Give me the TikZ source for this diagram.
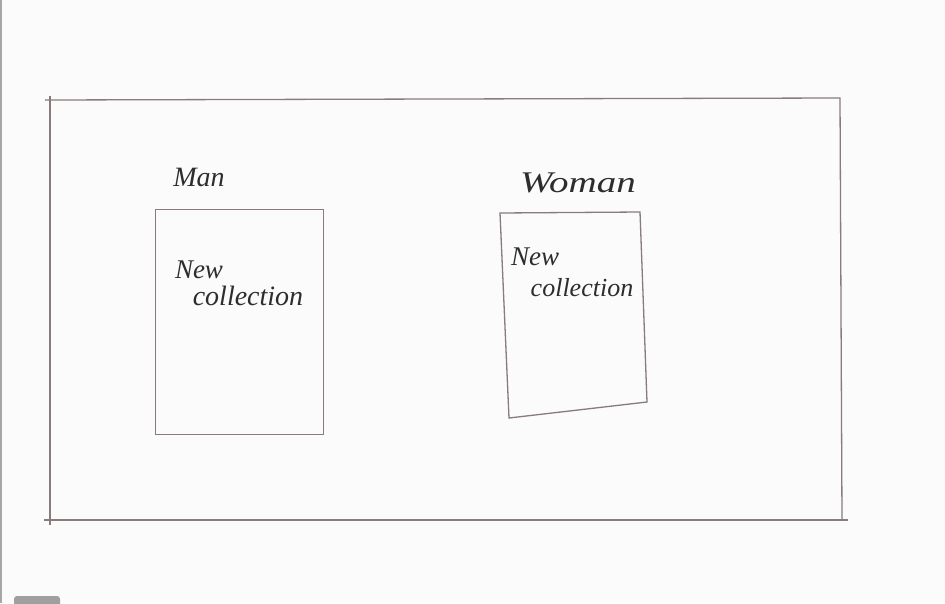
\documentclass[tikz,border=0pt]{standalone}
\usepackage{fontspec}
\setmainfont{Liberation Serif}
\begin{document}
\begin{tikzpicture}[x=1pt,y=-1pt,
  pencil/.style={draw=black!60!red!15!gray!90, line width=1.3pt},
  hand/.style={text=black!65!gray, inner sep=0pt, anchor=center},
  ]
\useasboundingbox[fill=white!97!gray] (0,0) rectangle (945,603);
% left edge gray line
\draw[gray!70, line width=1.5pt] (0.75,0) -- (0.75,603);
% gray tab
\fill[gray!75, rounded corners=3pt] (14,596) rectangle (60,610);
% outer frame
\coordinate (ftr) at (840,98);
\coordinate (fbr) at (842,520);
\draw[pencil] (45,100) -- (ftr) -- (fbr);
\draw[pencil] (50,96) -- (50,525);
\draw[pencil] (44,520) -- (848,520);
% man box
\node[pencil, minimum width=168pt, minimum height=225pt, inner sep=0pt] (man) at (239.5,322) {};
% woman box
\coordinate (wtl) at (500,213);
\coordinate (wtr) at (640,212);
\coordinate (wbr) at (647,402);
\coordinate (wbl) at (509,418);
\draw[pencil] (wtl) -- (wtr) -- (wbr) -- (wbl) -- cycle;
% labels
\node[hand, font=\fontsize{28}{30}\selectfont\itshape] (lman) at (199,177) {Man};
\node[hand, font=\fontsize{30}{32}\selectfont\itshape, xscale=1.3] (lwoman) at (578,183) {Woman};
\node[hand, font=\fontsize{27}{28}\selectfont\itshape] (n1) at (199,270) {New};
\node[hand, font=\fontsize{28}{30}\selectfont\itshape] (c1) at (248,296) {collection};
\node[hand, font=\fontsize{27}{28}\selectfont\itshape] (n2) at (535,257) {New};
\node[hand, font=\fontsize{26}{28}\selectfont\itshape] (c2) at (582,288) {collection};
\end{tikzpicture}
\end{document}
